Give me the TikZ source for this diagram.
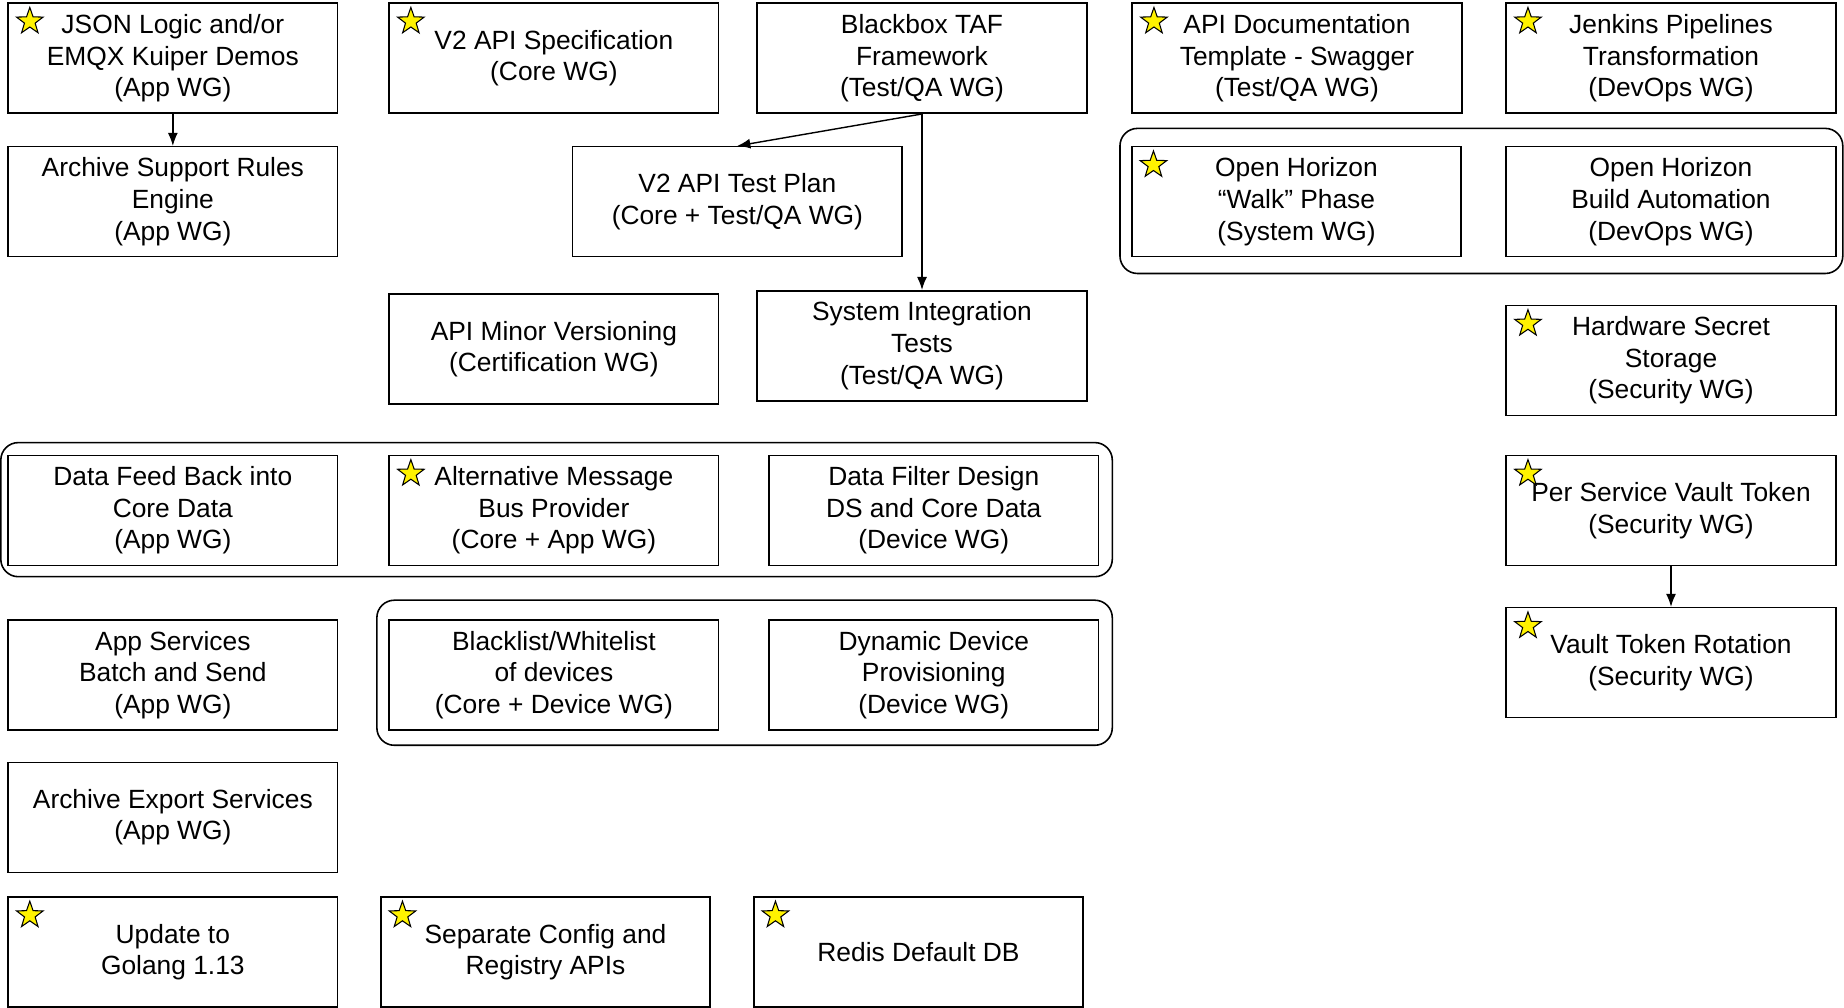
\documentclass[tikz,border=0pt]{standalone}
\usepackage{fontspec}
\setmainfont{Liberation Sans}
\usepackage{xcolor}
\usepackage{tikz}
\usetikzlibrary{shapes.geometric, arrows.meta}

\begin{document}
\begin{tikzpicture}[every node/.style={font=\fontsize{15}{18}\selectfont},
  task/.style={draw, rectangle, line width=0.9pt, minimum width=6.59cm, minimum height=2.2cm, align=center, inner sep=0pt},
  starmark/.style={draw, star, star points=5, star point ratio=2.5, fill=yellow, minimum size=0.56cm, inner sep=0pt, line width=0.6pt},
  group/.style={draw, rounded corners=0.35cm, line width=0.9pt},
  link/.style={-{Latex[length=2.6mm, width=2mm]}, line width=0.8pt}]
\useasboundingbox (0,0) rectangle (36.88,-20.16);

% Row 1
\node[task] (json) at (3.457,-1.164) {JSON Logic and/or\\EMQX Kuiper Demos\\(App WG)};
\node[task] (v2spec) at (11.078,-1.164) {V2 API Specification\\(Core WG)};
\node[task] (blackbox) at (18.44,-1.164) {Blackbox TAF\\Framework\\(Test/QA WG)};
\node[task] (apidoc) at (25.94,-1.164) {API Documentation\\Template - Swagger\\(Test/QA WG)};
\node[task] (jenkins) at (33.42,-1.164) {Jenkins Pipelines\\Transformation\\(DevOps WG)};

% Row 2
\node[task] (archrules) at (3.457,-4.034) {Archive Support Rules\\Engine\\(App WG)};
\node[task] (testplan) at (14.747,-4.034) {V2 API Test Plan\\(Core + Test/QA WG)};
\node[task] (ohwalk) at (25.93,-4.034) {Open Horizon\\“Walk” Phase\\(System WG)};
\node[task] (ohbuild) at (33.42,-4.034) {Open Horizon\\Build Automation\\(DevOps WG)};

% Row 3
\node[task] (minorver) at (11.078,-6.985) {API Minor Versioning\\(Certification WG)};
\node[task] (sysint) at (18.44,-6.915) {System Integration\\Tests\\(Test/QA WG)};
\node[task] (hwsecret) at (33.42,-7.209) {Hardware Secret\\Storage\\(Security WG)};

% Row 4
\node[task] (feed) at (3.457,-10.208) {Data Feed Back into\\Core Data\\(App WG)};
\node[task] (altbus) at (11.078,-10.208) {Alternative Message\\Bus Provider\\(Core + App WG)};
\node[task] (filter) at (18.675,-10.208) {Data Filter Design\\DS and Core Data\\(Device WG)};
\node[task] (vaulttoken) at (33.42,-10.208) {Per Service Vault Token\\(Security WG)};

% Row 5
\node[task] (batch) at (3.457,-13.50) {App Services\\Batch and Send\\(App WG)};
\node[task] (blacklist) at (11.078,-13.50) {Blacklist/Whitelist\\of devices\\(Core + Device WG)};
\node[task] (provision) at (18.675,-13.50) {Dynamic Device\\Provisioning\\(Device WG)};
\node[task] (rotation) at (33.42,-13.254) {Vault Token Rotation\\(Security WG)};

% Rows 6 and 7
\node[task] (export) at (3.457,-16.346) {Archive Export Services\\(App WG)};
\node[task] (golang) at (3.457,-19.04) {Update to\\Golang 1.13};
\node[task] (config) at (10.91,-19.04) {Separate Config and\\Registry APIs};
\node[task] (redis) at (18.37,-19.04) {Redis Default DB};

% Groups
\draw[group] ([shift={(-0.22,0.35)}]ohwalk.north west) rectangle ([shift={(0.125,-0.32)}]ohbuild.south east);
\draw[group] ([shift={(-0.13,0.24)}]feed.north west) rectangle ([shift={(0.26,-0.21)}]filter.south east);
\draw[group] ([shift={(-0.23,0.38)}]blacklist.north west) rectangle ([shift={(0.26,-0.29)}]provision.south east);

% Stars
\foreach \n in {json, v2spec, apidoc, jenkins, ohwalk, hwsecret, altbus, vaulttoken, rotation, golang, config, redis}
  \node[starmark] (star-\n) at ([shift={(0.45,-0.38)}]\n.north west) {};

% Dependencies
\draw[link] (json) -- (archrules);
\draw[link] (blackbox.south) -- (testplan.north);
\draw[link] (blackbox) -- (sysint);
\draw[link] (vaulttoken) -- (rotation);
\end{tikzpicture}
\end{document}
